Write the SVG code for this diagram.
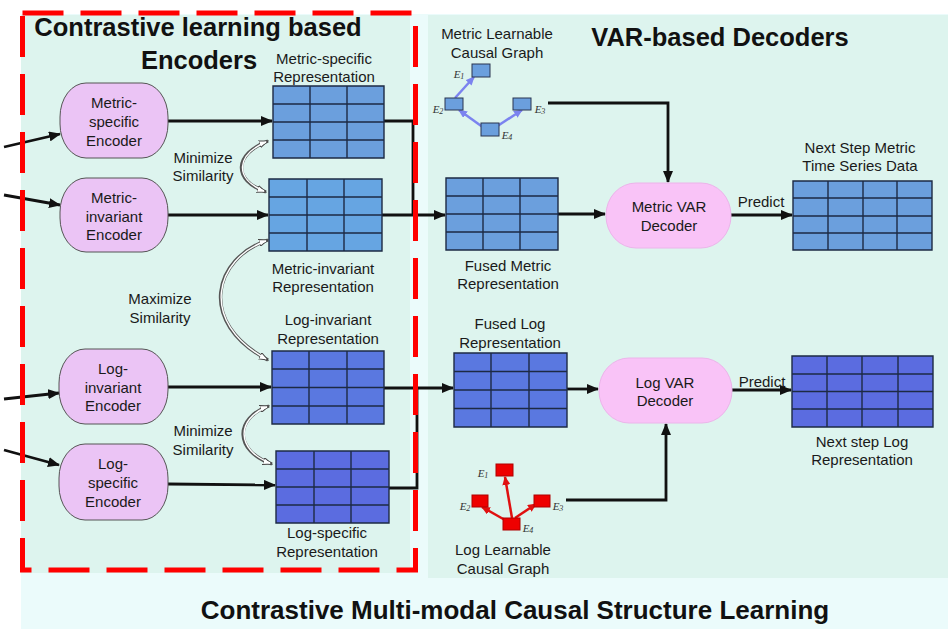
<svg xmlns="http://www.w3.org/2000/svg" width="948" height="629" viewBox="0 0 948 629">
<defs>
<style>
.t{font-family:"Liberation Sans",Arial,sans-serif;font-size:15px;fill:#1a1a1a;text-anchor:middle;dominant-baseline:central}
.h{font-family:"Liberation Sans",Arial,sans-serif;font-weight:bold;fill:#111}
.enc{fill:#ebc4f5;stroke:#555;stroke-width:1}
.dec{fill:#f9c3f7;stroke:#ecb4ea;stroke-width:1}
.grid{stroke:#1d2a44;stroke-width:1.4;fill:none}
.mb{fill:#6b9fdd}
.mi{fill:#66a5e2}
.lb{fill:#5a78e0}
.ls{fill:#5b6ce0}
.con{fill:none;stroke:#111;stroke-width:2.8}
.dbl-o{fill:none;stroke:#555;stroke-width:3.4}
.dbl-i{fill:none;stroke:#fff;stroke-width:1.4}
.e{font-family:"Liberation Serif","Times New Roman",serif;font-style:italic;font-size:11px;fill:#333;dominant-baseline:central;text-anchor:middle}
.sub{font-size:8px}
.bnode{fill:#6b9fdd;stroke:#2a3550;stroke-width:1}
.rnode{fill:#ee0000;stroke:#b00000;stroke-width:1}
.barc{stroke:#7b83ef;stroke-width:2.5;fill:none}
.rarc{stroke:#e01010;stroke-width:2.5;fill:none}
</style>
<marker id="ah" markerUnits="userSpaceOnUse" markerWidth="12" markerHeight="10" refX="11" refY="5" orient="auto"><path d="M0,0 L12,5 L0,10 Z" fill="#111"/></marker>
<marker id="hw" markerUnits="userSpaceOnUse" markerWidth="10" markerHeight="8" refX="9" refY="4" orient="auto-start-reverse"><path d="M0,0.5 L9,4 L0,7.5 Z" fill="#fff" stroke="#444" stroke-width="1"/></marker>
<marker id="ab" markerUnits="userSpaceOnUse" markerWidth="9" markerHeight="8" refX="8" refY="4" orient="auto"><path d="M0,0 L9,4 L0,8 Z" fill="#7b83ef"/></marker>
<marker id="ar" markerUnits="userSpaceOnUse" markerWidth="9" markerHeight="8" refX="8" refY="4" orient="auto"><path d="M0,0 L9,4 L0,8 Z" fill="#e01010"/></marker>
</defs>

<rect x="0" y="0" width="948" height="629" fill="#ffffff"/>
<rect x="21" y="14" width="927" height="615" fill="#ebfbfb"/>
<rect id="left-panel" x="21" y="15" width="389" height="558" fill="#ddf4ee"/>
<rect id="right-panel" x="428" y="15" width="520" height="563" fill="#ddf4ee"/>

<text class="h" x="198" y="36" font-size="25.5" text-anchor="middle">Contrastive learning based</text>
<text class="h" x="199" y="69" font-size="25.5" text-anchor="middle">Encoders</text>
<text class="h" x="720" y="46" font-size="25.5" text-anchor="middle">VAR-based Decoders</text>
<text class="h" x="515" y="619" font-size="26" text-anchor="middle">Contrastive Multi-modal Causal Structure Learning</text>

<g id="connectors">
<line class="con" x1="4" y1="147" x2="60" y2="134" marker-end="url(#ah)"/>
<line class="con" x1="4" y1="195" x2="60" y2="205" marker-end="url(#ah)"/>
<line class="con" x1="4" y1="399" x2="59" y2="393" marker-end="url(#ah)"/>
<line class="con" x1="4" y1="450" x2="59" y2="465" marker-end="url(#ah)"/>
<line class="con" x1="168" y1="121" x2="272" y2="121" marker-end="url(#ah)"/>
<line class="con" x1="168" y1="215" x2="268" y2="215" marker-end="url(#ah)"/>
<line class="con" x1="168" y1="387" x2="271" y2="387" marker-end="url(#ah)"/>
<line class="con" x1="168" y1="484" x2="275" y2="485" marker-end="url(#ah)"/>
<polyline class="con" points="384,121 413,121 413,215"/>
<line class="con" x1="382" y1="215" x2="445" y2="215" marker-end="url(#ah)"/>
<polyline class="con" points="389,488 417,488 417,388"/>
<line class="con" x1="384" y1="388" x2="453" y2="388" marker-end="url(#ah)"/>
<line class="con" x1="558" y1="214" x2="605" y2="214" marker-end="url(#ah)"/>
<polyline class="con" points="548,103 668,103 668,182" marker-end="url(#ah)"/>
<line class="con" x1="731" y1="215" x2="792" y2="215" marker-end="url(#ah)"/>
<line class="con" x1="567" y1="389" x2="598" y2="389" marker-end="url(#ah)"/>
<polyline class="con" points="566,500 666,500 666,424" marker-end="url(#ah)"/>
<line class="con" x1="732" y1="390" x2="791" y2="390" marker-end="url(#ah)"/>
<path class="dbl-o" d="M268,141 C234,154 232,180 266,192" marker-start="url(#hw)" marker-end="url(#hw)"/>
<path class="dbl-i" d="M266,142 C236,155 234,179 264,191"/>
<path class="dbl-o" d="M268,240 C214,258 196,322 268,360" marker-start="url(#hw)" marker-end="url(#hw)"/>
<path class="dbl-i" d="M266,241 C215,259 198,321 266,359"/>
<path class="dbl-o" d="M269,406 C234,418 234,451 272,464" marker-start="url(#hw)" marker-end="url(#hw)"/>
<path class="dbl-i" d="M267,407 C236,419 236,450 270,463"/>
</g>

<text class="t" x="203" y="157">Minimize</text>
<text class="t" x="203" y="175">Similarity</text>
<text class="t" x="160" y="298">Maximize</text>
<text class="t" x="160" y="317">Similarity</text>
<text class="t" x="203" y="430">Minimize</text>
<text class="t" x="203" y="449">Similarity</text>
<text class="t" x="761" y="201">Predict</text>
<text class="t" x="762" y="381">Predict</text>

<g id="enc-metric-specific">
<rect class="enc" x="60" y="83" width="108" height="75" rx="26" ry="34"/>
<text class="t" x="114" y="102">Metric-</text>
<text class="t" x="114" y="121">specific</text>
<text class="t" x="114" y="140">Encoder</text>
</g>
<g id="enc-metric-invariant">
<rect class="enc" x="60" y="178" width="108" height="74" rx="26" ry="34"/>
<text class="t" x="114" y="197">Metric-</text>
<text class="t" x="114" y="216">invariant</text>
<text class="t" x="114" y="234">Encoder</text>
</g>
<g id="enc-log-invariant">
<rect class="enc" x="59" y="349" width="109" height="75" rx="26" ry="34"/>
<text class="t" x="113" y="368">Log-</text>
<text class="t" x="113" y="387">invariant</text>
<text class="t" x="113" y="405">Encoder</text>
</g>
<g id="enc-log-specific">
<rect class="enc" x="59" y="444" width="109" height="76" rx="26" ry="34"/>
<text class="t" x="113" y="463">Log-</text>
<text class="t" x="113" y="482">specific</text>
<text class="t" x="113" y="501">Encoder</text>
</g>

<g id="rep-metric-specific">
<rect class="mb" x="273" y="86" width="111" height="72"/>
<path class="grid" d="M273,86 H384 V158 H273 Z M310,86 V158 M347,86 V158 M273,104 H384 M273,122 H384 M273,140 H384"/>
<text class="t" x="324" y="58">Metric-specific</text>
<text class="t" x="324" y="76">Representation</text>
</g>
<g id="rep-metric-invariant">
<rect class="mi" x="269" y="179" width="113" height="72"/>
<path class="grid" d="M269,179 H382 V251 H269 Z M307,179 V251 M344,179 V251 M269,197 H382 M269,215 H382 M269,233 H382"/>
<text class="t" x="323" y="268">Metric-invariant</text>
<text class="t" x="323" y="286">Representation</text>
</g>
<g id="rep-log-invariant">
<rect class="lb" x="272" y="351" width="112" height="73"/>
<path class="grid" d="M272,351 H384 V424 H272 Z M309,351 V424 M347,351 V424 M272,369 H384 M272,387.5 H384 M272,406 H384"/>
<text class="t" x="328" y="319">Log-invariant</text>
<text class="t" x="328" y="338">Representation</text>
</g>
<g id="rep-log-specific">
<rect class="ls" x="276" y="451" width="113" height="72"/>
<path class="grid" d="M276,451 H389 V523 H276 Z M314,451 V523 M351,451 V523 M276,469 H389 M276,487 H389 M276,505 H389"/>
<text class="t" x="327" y="532">Log-specific</text>
<text class="t" x="327" y="551">Representation</text>
</g>

<g id="fused-metric">
<rect class="mb" x="446" y="178" width="112" height="72"/>
<path class="grid" d="M446,178 H558 V250 H446 Z M483,178 V250 M520,178 V250 M446,196 H558 M446,214 H558 M446,232 H558"/>
<text class="t" x="508" y="265">Fused Metric</text>
<text class="t" x="508" y="283">Representation</text>
</g>
<g id="fused-log">
<rect class="lb" x="454" y="353" width="113" height="74"/>
<path class="grid" d="M454,353 H567 V427 H454 Z M491,353 V427 M529,353 V427 M454,371.5 H567 M454,390 H567 M454,408.5 H567"/>
<text class="t" x="510" y="323">Fused Log</text>
<text class="t" x="510" y="342">Representation</text>
</g>

<g id="metric-var-decoder">
<rect class="dec" x="606" y="183" width="125" height="65" rx="30" ry="32"/>
<text class="t" x="669" y="206">Metric VAR</text>
<text class="t" x="669" y="225">Decoder</text>
</g>
<g id="log-var-decoder">
<rect class="dec" x="599" y="358" width="133" height="65" rx="30" ry="32"/>
<text class="t" x="665" y="382">Log VAR</text>
<text class="t" x="665" y="400">Decoder</text>
</g>

<g id="next-metric">
<rect class="mb" x="793" y="181" width="139" height="69"/>
<path class="grid" d="M793,181 H932 V250 H793 Z M828,181 V250 M863,181 V250 M897,181 V250 M793,198 H932 M793,216 H932 M793,233 H932"/>
<text class="t" x="860" y="147">Next Step Metric</text>
<text class="t" x="860" y="165">Time Series Data</text>
</g>
<g id="next-log">
<rect class="ls" x="792" y="356" width="141" height="71"/>
<path class="grid" d="M792,356 H933 V427 H792 Z M827,356 V427 M862,356 V427 M898,356 V427 M792,374 H933 M792,391.5 H933 M792,409 H933"/>
<text class="t" x="862" y="441">Next step Log</text>
<text class="t" x="862" y="459">Representation</text>
</g>

<g id="metric-causal-graph">
<text class="t" x="497" y="33">Metric Learnable</text>
<text class="t" x="497" y="52">Causal Graph</text>
<line class="barc" x1="455" y1="98" x2="474" y2="77" marker-end="url(#ab)"/>
<line class="barc" x1="484" y1="128" x2="459" y2="110" marker-end="url(#ab)"/>
<line class="barc" x1="496" y1="127" x2="522" y2="110" marker-end="url(#ab)"/>
<rect class="bnode" x="472" y="64" width="18" height="13"/>
<rect class="bnode" x="445" y="98" width="18" height="12"/>
<rect class="bnode" x="513" y="98" width="18" height="12"/>
<rect class="bnode" x="481" y="123" width="18" height="13"/>
<text class="e" x="459" y="74">E<tspan class="sub" dy="2">1</tspan></text>
<text class="e" x="438" y="109">E<tspan class="sub" dy="2">2</tspan></text>
<text class="e" x="540" y="109">E<tspan class="sub" dy="2">3</tspan></text>
<text class="e" x="507" y="135">E<tspan class="sub" dy="2">4</tspan></text>
</g>

<g id="log-causal-graph">
<text class="t" x="503" y="549">Log Learnable</text>
<text class="t" x="503" y="568">Causal Graph</text>
<line class="rarc" x1="512" y1="518" x2="505" y2="477" marker-end="url(#ar)"/>
<line class="rarc" x1="505" y1="520" x2="482" y2="507" marker-end="url(#ar)"/>
<line class="rarc" x1="515" y1="518" x2="536" y2="504" marker-end="url(#ar)"/>
<rect class="rnode" x="496" y="464" width="17" height="12"/>
<rect class="rnode" x="472" y="495" width="16" height="12"/>
<rect class="rnode" x="534" y="495" width="16" height="12"/>
<rect class="rnode" x="503" y="518" width="17" height="12"/>
<text class="e" x="483" y="473">E<tspan class="sub" dy="2">1</tspan></text>
<text class="e" x="465" y="506">E<tspan class="sub" dy="2">2</tspan></text>
<text class="e" x="558" y="506">E<tspan class="sub" dy="2">3</tspan></text>
<text class="e" x="528" y="528">E<tspan class="sub" dy="2">4</tspan></text>
</g>

<rect id="red-dashed-frame" x="22.5" y="13" width="393" height="557" fill="none" stroke="#ff0000" stroke-width="5" stroke-dasharray="41 17"/>
</svg>
